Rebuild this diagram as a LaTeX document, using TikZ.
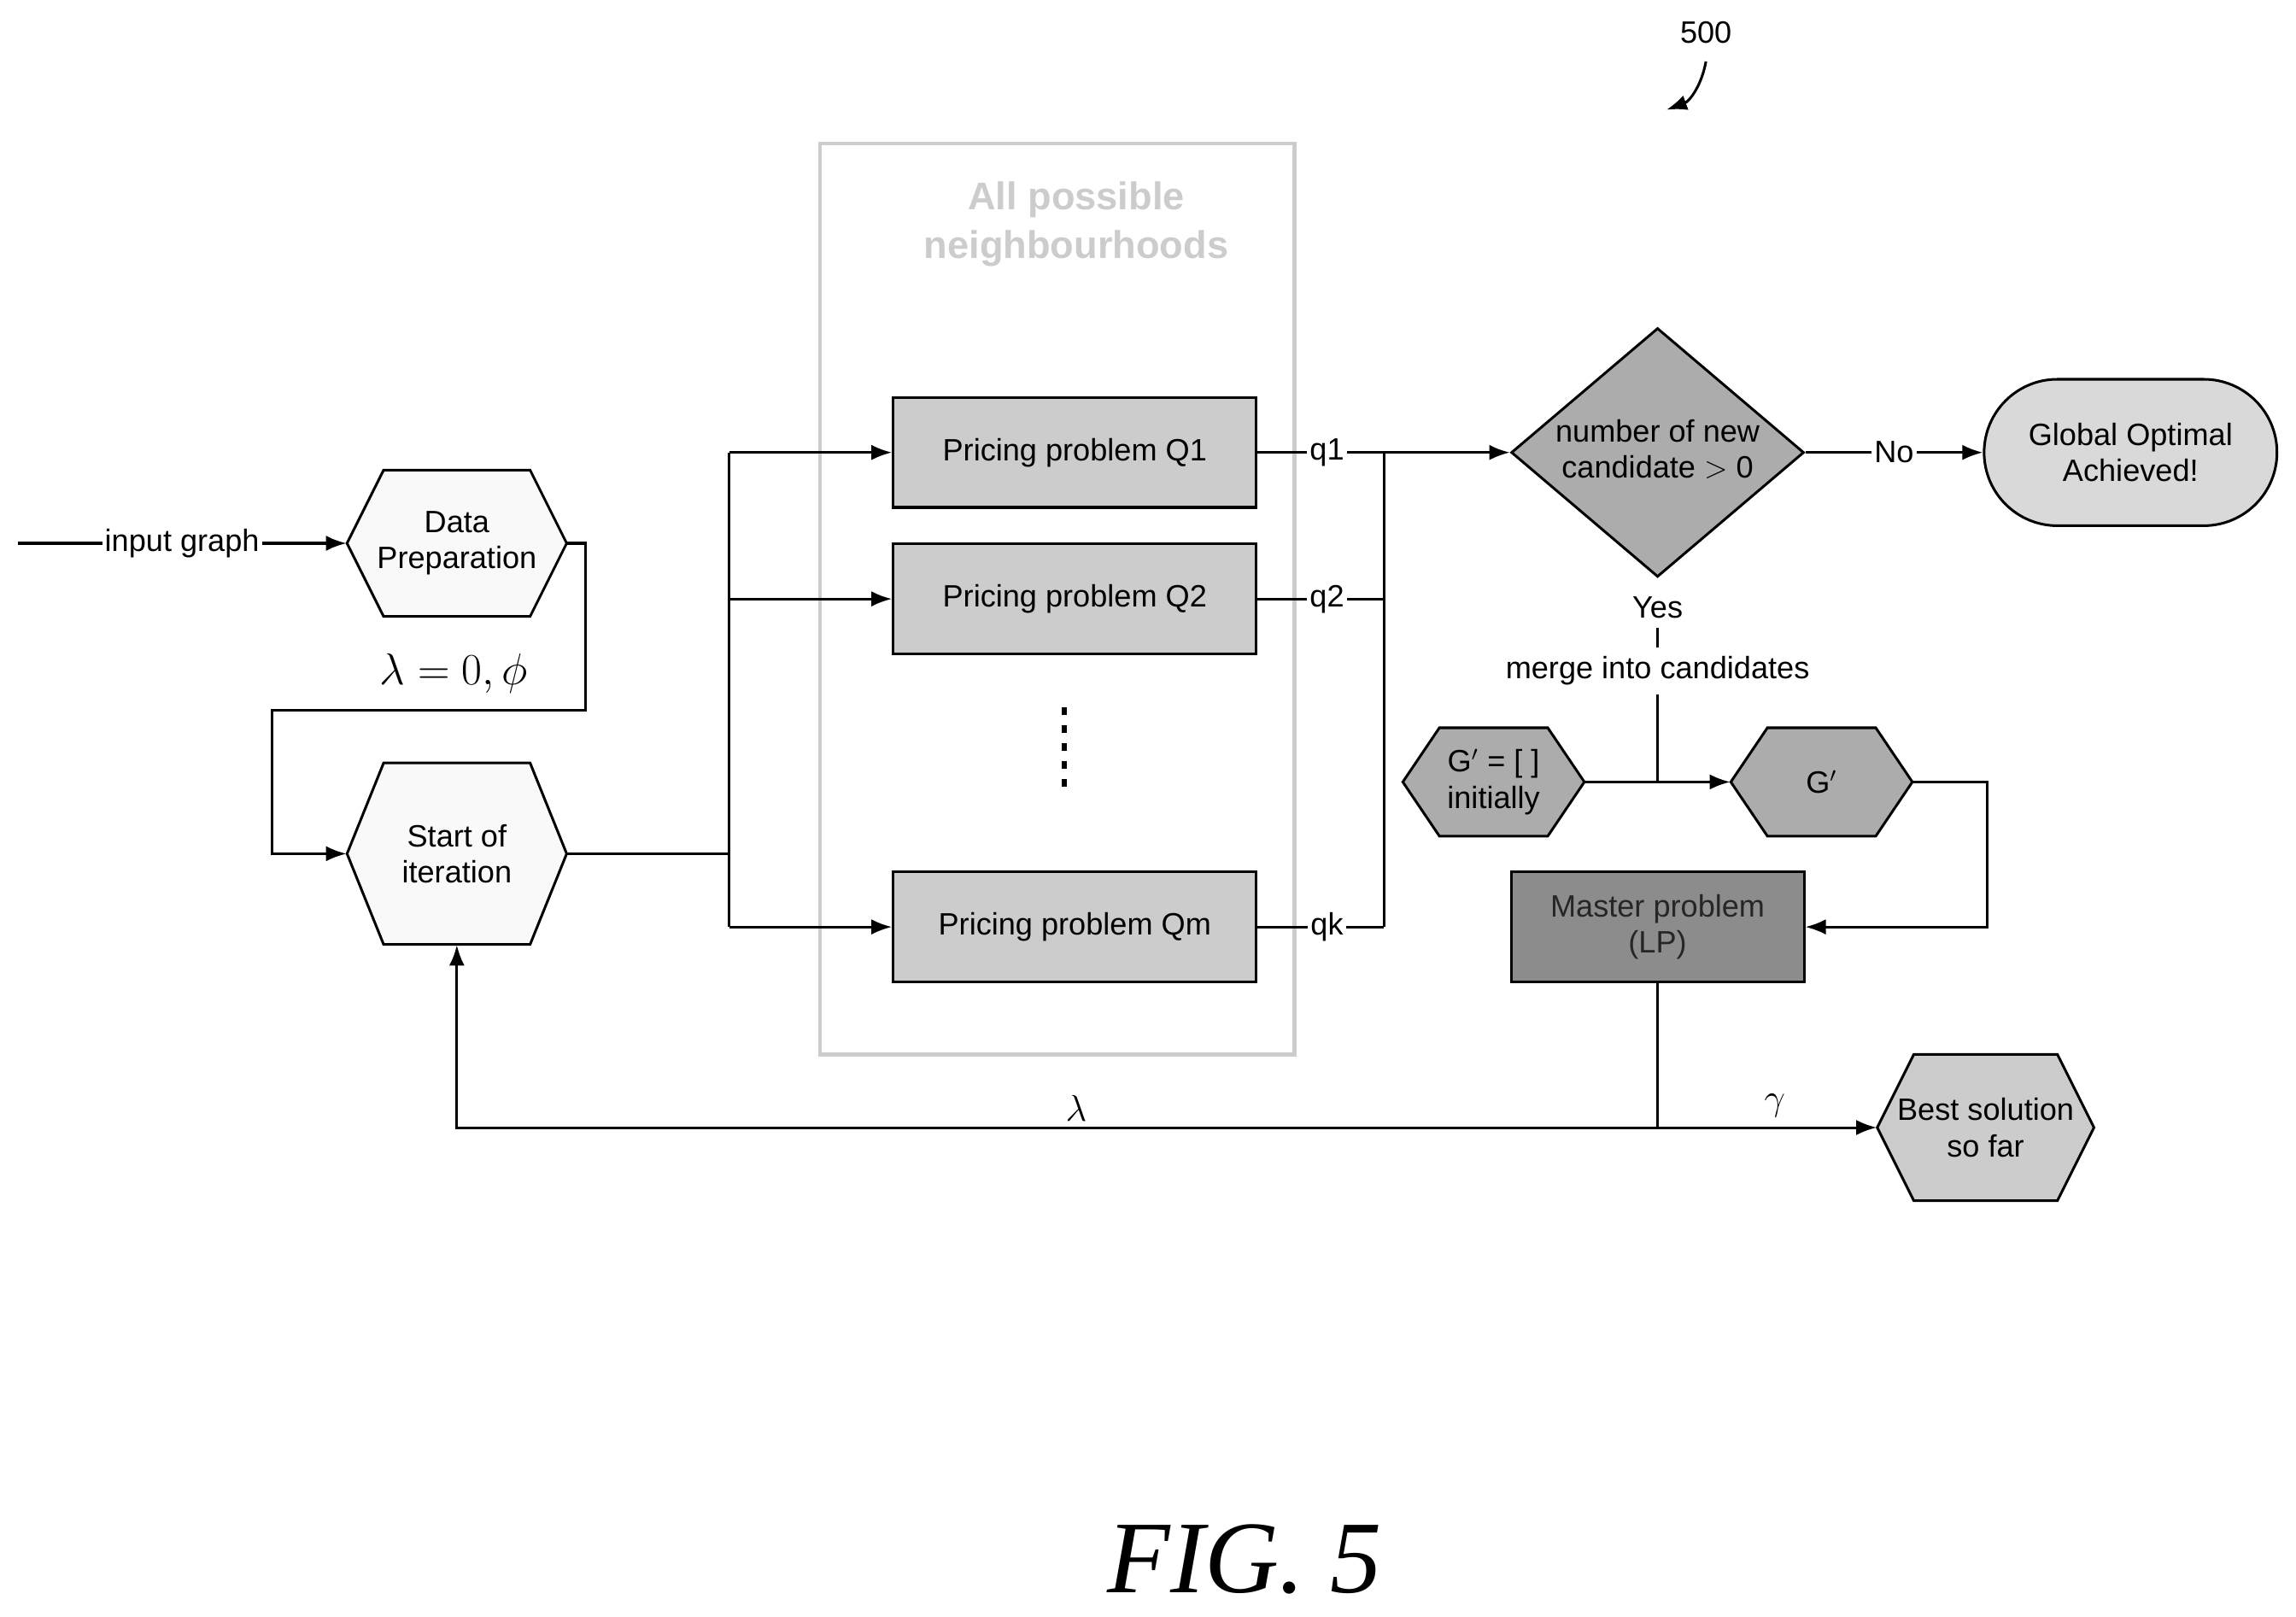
\documentclass[tikz,border=0pt]{standalone}
\usepackage{fontspec}
\setmainfont{Liberation Sans}
\newfontfamily\serifit{Liberation Serif}
\usetikzlibrary{shapes.geometric,arrows.meta}
\newcommand\myhex[7]{% name, cx, cy, halfw, halfh, fill, text
  \fill[#6,draw=black,line width=1pt] (#2-#4,#3) -- (#2-#4+25,#3-#5) -- (#2+#4-25,#3-#5) -- (#2+#4,#3) -- (#2+#4-25,#3+#5) -- (#2-#4+25,#3+#5) -- cycle;
  \node[align=center,minimum width=2*#4*0.02cm,minimum height=2*#5*0.02cm,inner sep=0pt] (#1) at (#2,#3) {#7};}
\begin{document}
\begin{tikzpicture}[x=0.02cm,y=-0.02cm,font=\fontsize{12}{14}\selectfont,
  ln/.style={line width=1pt},
  ar/.style={line width=1pt,-{Latex[length=8pt,width=6pt]}},
  box/.style={draw,line width=1pt,fill=#1,minimum width=248*0.02cm,minimum height=75*0.02cm},
  lab/.style={fill=white,inner sep=1pt}]
\useasboundingbox (0,0) rectangle (1568,1104);
\node (n500) at (1165,22) {500};
\coordinate (c500) at (1138,75);
\draw[ar] (1165,42) to[out=-100,in=20] (c500);
% neighbourhood box
\draw[gray!40,line width=1.5pt] (560,98) rectangle (884,720);
\node[gray!40,font=\fontsize{15}{19}\selectfont\bfseries,align=center] (nt) at (735,153) {All possible\\neighbourhoods};
\node[box=gray!40] (q1) at (734,309) {Pricing problem Q1};
\node[box=gray!40] (q2) at (734,409) {Pricing problem Q2};
\node[box=gray!40] (qm) at (734,633) {Pricing problem Qm};
\draw[line width=2pt,dash pattern=on 3pt off 4pt] (727,483) -- (727,542);
\myhex{dp}{312}{371}{75}{50}{gray!5}{Data\\Preparation}
\myhex{st}{312}{583}{75}{62}{gray!5}{Start of\\iteration}
\coordinate (in) at (12,371);
\draw[ar] (in) -- node[lab]{input graph} (dp.west);
\draw[ar] (dp.east) -- (400,371) -- (400,485) -- (186,485) -- (186,583) -- (st.west);
\node (l0) at (310,460) {\fontsize{16}{18}\selectfont$\lambda=0,\phi$};
\coordinate (sp) at (498,583);
\draw[ln] (st.east) -- (sp);
\draw[ln] (498,309) -- (498,633);
\draw[ar] (498,309) -- (q1.west);
\draw[ar] (498,409) -- (q2.west);
\draw[ar] (498,633) -- (qm.west);
\draw[ln] (q1.east) -- node[lab,pos=0.55]{q1} (945,309);
\draw[ln] (q2.east) -- node[lab,pos=0.55]{q2} (945,409);
\draw[ln] (qm.east) -- node[lab,pos=0.55]{qk} (945,633);
\draw[ln] (945,309) -- (945,633);
\node[diamond,draw,line width=1pt,fill=gray!65,minimum width=200*0.02cm,minimum height=170*0.02cm,inner sep=0pt,aspect=1.18] (dm) at (1132,309) {};
\node[align=center] at (1132,307) {number of new\\candidate $>$ 0};
\draw[ar] (945,309) -- (dm.west);
\node[draw,line width=1pt,fill=gray!30,rounded corners=50*0.02cm,minimum width=200*0.02cm,minimum height=100*0.02cm,align=center] (go) at (1455,309) {Global Optimal\\Achieved!};
\draw[ar] (dm.east) -- node[lab]{No} (go.west);
\node (yes) at (1132,415) {Yes};
\node (mg) at (1132,458) {merge into candidates};
\draw[ln,dash pattern=on 8pt off 4pt] (yes.south) -- (mg.north);
\myhex{g0}{1020}{534}{62}{37}{gray!65}{G$'$ = [ ]\\initially}
\myhex{g1}{1244}{534}{62}{37}{gray!65}{G$'$}
\coordinate (jn) at (1132,534);
\draw[ln] (mg.south) -- (jn);
\draw[ar] (g0.east) -- (g1.west);
\node[draw,line width=1pt,fill=gray!90,minimum width=200*0.02cm,minimum height=75*0.02cm,align=center,text=black!85] (mp) at (1132,633) {Master problem\\(LP)};
\draw[ar] (g1.east) -- (1357,534) -- (1357,633) -- (mp.east);
\myhex{bs}{1356}{770}{74}{50}{gray!40}{Best solution\\so far}
\coordinate (ml) at (1132,770);
\draw[ln] (mp.south) -- (ml);
\draw[ar] (ml) -- (312,770) -- (st.south);
\node at (735,757) {\fontsize{14}{16}\selectfont$\lambda$};
\draw[ar] (ml) -- (bs.west);
\node at (1212,755) {\fontsize{14}{16}\selectfont$\gamma$};
\node (fig) at (850,1065) {\fontsize{40}{44}\selectfont\serifit\itshape FIG. 5};
\end{tikzpicture}
\end{document}
